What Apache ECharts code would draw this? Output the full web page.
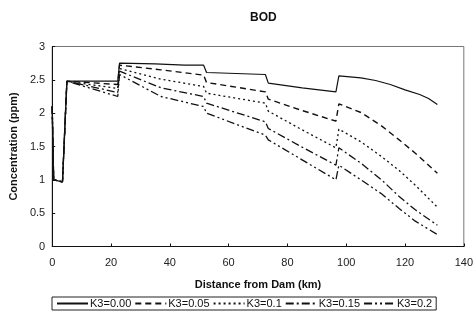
<!DOCTYPE html>
<html>
<head>
<meta charset="utf-8">
<script src="https://cdn.jsdelivr.net/npm/echarts@6/dist/echarts.min.js"></script>
<style>
  html, body { margin: 0; padding: 0; background: #fff; }
  #chart { width: 476px; height: 318px; }
</style>
</head>
<body>
<div id="chart"></div>
<script>
	// BOD 沿程浓度 [距离km, 浓度ppm]
	var seriesNames = ['K3=0.00', 'K3=0.05', 'K3=0.1', 'K3=0.15', 'K3=0.2'];
	var head = [[0, 2.1], [0.5, 1.0], [1, 0.97], [3.5, 0.97], [4, 1.0], [5, 2.48]];
	var k000 = [[22.3, 2.48], [22.9, 2.75], [35, 2.74], [45, 2.72], [51.5, 2.72], [52.5, 2.61], [72.5, 2.58], [73.5, 2.45], [85, 2.38], [96.5, 2.32], [97.5, 2.56], [105, 2.53], [110, 2.49], [115, 2.43], [120, 2.35], [125, 2.28], [128, 2.22], [131, 2.13]];
	var k005 = [[22.3, 2.43], [22.9, 2.72], [37, 2.65], [51.5, 2.57], [52.5, 2.46], [72.5, 2.32], [73.5, 2.21], [85, 2.04], [96.5, 1.88], [97.5, 2.14], [105, 2.01], [112, 1.81], [118, 1.60], [123.5, 1.40], [131, 1.10]];
	var k010 = [[22.3, 2.37], [22.9, 2.67], [37, 2.51], [51.5, 2.40], [52.5, 2.30], [72.5, 2.15], [73.5, 2.03], [85, 1.75], [96.5, 1.48], [97.5, 1.76], [105, 1.57], [112, 1.35], [118, 1.14], [123.5, 0.92], [131, 0.59]];
	var k015 = [[22.3, 2.31], [22.9, 2.63], [37, 2.38], [51.5, 2.25], [52.5, 2.15], [72.5, 1.87], [73.5, 1.77], [85, 1.49], [96.5, 1.22], [97.5, 1.48], [105, 1.25], [112, 1.0], [118, 0.75], [123.5, 0.55], [131, 0.32]];
	var k020 = [[22.3, 2.25], [22.9, 2.58], [37, 2.25], [51.5, 2.10], [52.5, 2.00], [72.5, 1.67], [73.5, 1.60], [85, 1.30], [96.5, 1.00], [97.5, 1.22], [105, 1.00], [112, 0.79], [118, 0.57], [123.5, 0.38], [131, 0.18]];

	var allData = [k000, k005, k010, k015, k020];
	var dashTypes = ['solid', [6, 4], [2, 3], [8, 3, 2, 3], [8, 3, 2, 3, 2, 3]];
	var lineWidths = [1.2, 1.4, 1.3, 1.3, 1.3];
	var font = 'Liberation Sans';

	var chart = echarts.init(document.getElementById('chart'));
	var seriesData = [];
	for (var i = 0; i < seriesNames.length; i++) {
		seriesData.push({
			name: seriesNames[i],
			type: 'line',
			symbol: 'none',
			animation: false,
			lineStyle: { color: '#111', width: lineWidths[i], type: dashTypes[i] },
			itemStyle: { color: '#111' },
			data: head.concat(allData[i])
		});
	}

	var option = {
		backgroundColor: '#fff',
		title: {
			text: 'BOD',
			left: 245,
			top: 7,
			textStyle: { fontFamily: font, fontSize: 12, fontWeight: 'bold', color: '#111' }
		},
		legend: {
			data: seriesNames,
			left: 52,
			top: 297,
			padding: [1, 4],
			itemWidth: 31,
			itemHeight: 10,
			itemGap: 3,
			borderColor: '#222',
			borderWidth: 1,
			borderRadius: 0,
			selectedMode: false,
			itemStyle: { opacity: 0, borderWidth: 0 },
			textStyle: { fontFamily: font, fontSize: 11, color: '#111', padding: [0, 0, 0, -3] }
		},
		grid: {
			left: 50,
			right: 10,
			top: 46.5,
			bottom: 71.5,
			show: true,
			borderColor: '#777',
			borderWidth: 1
		},
		xAxis: {
			type: 'value',
			min: 0,
			max: 140,
			interval: 20,
			name: 'Distance from Dam (km)',
			nameLocation: 'middle',
			nameGap: 33,
			nameTextStyle: { fontFamily: font, fontSize: 11, fontWeight: 'bold', color: '#111' },
			axisLine: { show: true, lineStyle: { color: '#111', width: 1 } },
			axisTick: { show: true, inside: true, length: 3, lineStyle: { color: '#111' } },
			axisLabel: { fontFamily: font, fontSize: 11, color: '#222', margin: 11 },
			splitLine: { show: false }
		},
		yAxis: {
			type: 'value',
			min: 0,
			max: 3,
			interval: 0.5,
			name: 'Concentration (ppm)',
			nameLocation: 'middle',
			nameGap: 31,
			nameTextStyle: { fontFamily: font, fontSize: 11, fontWeight: 'bold', color: '#111' },
			axisLine: { show: true, lineStyle: { color: '#111', width: 1 } },
			axisTick: { show: true, inside: true, length: 3, lineStyle: { color: '#111' } },
			axisLabel: { fontFamily: font, fontSize: 11, color: '#222', margin: 7 },
			splitLine: { show: false }
		},
		series: seriesData
	};
	chart.setOption(option);
</script>
</body>
</html>
